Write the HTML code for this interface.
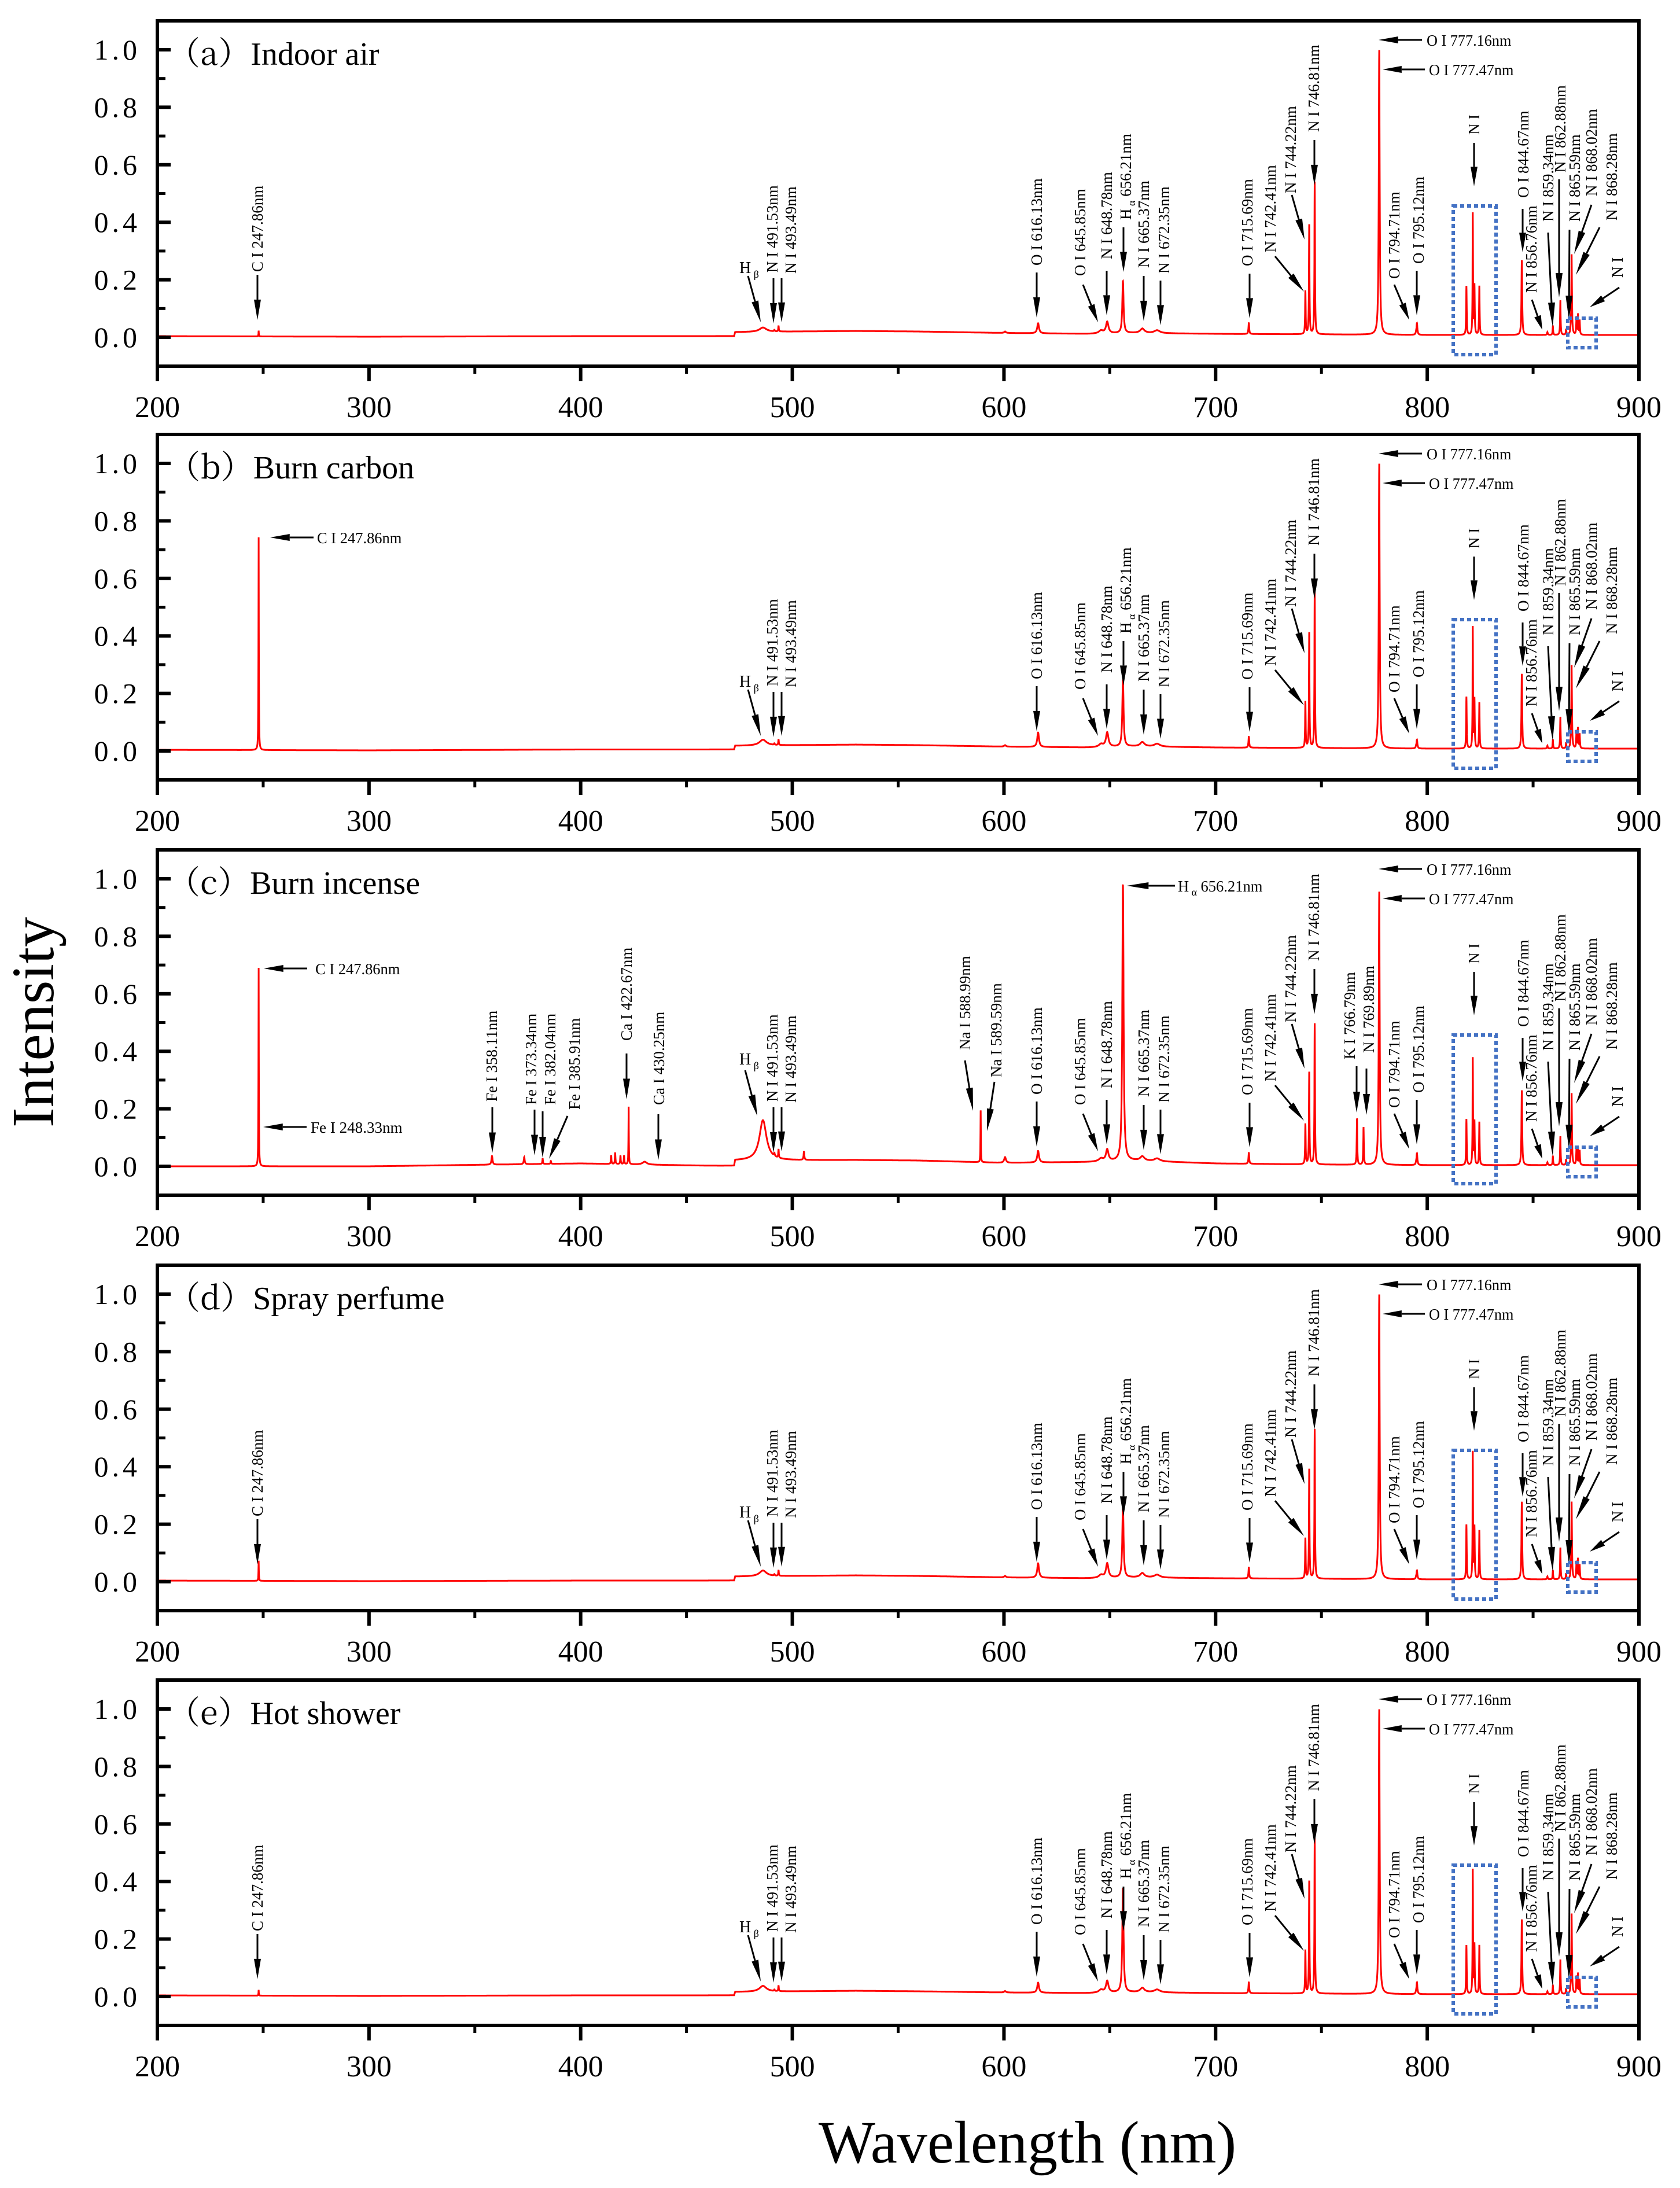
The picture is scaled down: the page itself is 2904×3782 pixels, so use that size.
<!DOCTYPE html>
<html><head><meta charset="utf-8"><title>LIBS spectra</title>
<style>
html,body{margin:0;padding:0;background:#fff;}
svg{display:block;}
text{font-family:"Liberation Serif","Noto Serif CJK SC",serif;fill:#000;}
</style></head>
<body>
<svg id="fig" xmlns="http://www.w3.org/2000/svg" width="2904" height="3782" viewBox="0 0 2904 3782">
<rect width="2904" height="3782" fill="#fff"/>
<text transform="translate(92,1767) rotate(-90)" text-anchor="middle" font-size="104">Intensity</text>
<text x="1776" y="3738" text-anchor="middle" font-size="104">Wavelength (nm)</text>
<g id="panels"></g>
</svg>
<script>
// ---------- data ----------
const panelNames = ["Indoor air","Burn carbon","Burn incense","Spray perfume","Hot shower"];
const panelLetters = ["a","b","c","d","e"];
const xTicks = [200,300,400,500,600,700,800,900];
const yTicks = [0,0.2,0.4,0.6,0.8,1.0];
const yTickLabels = ["0.0","0.2","0.4","0.6","0.8","1.0"];
// emission line centers (nm)
const lineWl = [247.86,358.11,373.34,382.04,385.91,414.4,416.3,418.8,420.5,422.67,430.25,486.13,491.53,493.49,505.5,588.99,600.5,616.13,645.85,648.78,656.21,665.37,672.35,715.69,742.41,744.22,746.81,766.79,769.89,777.3,794.71,795.12,818.5,821.5,822.3,824.6,844.67,856.76,859.34,862.88,865.59,868.2,870.5,871.2,872.0];
const lineWidth = [0.1,0.3,0.25,0.15,0.15,0.15,0.15,0.15,0.15,0.1,1.2,2.0,0.2,0.15,0.2,0.1,0.5,0.5,1.2,0.7,0.35,1.2,1.6,0.2,0.15,0.15,0.15,0.15,0.15,0.25,0.2,0.25,0.15,0.12,0.15,0.15,0.2,0.2,0.15,0.15,0.15,0.18,0.15,0.15,0.15];
// per-panel line heights (normalized intensity)
const heightsA = [0.02,0,0,0,0,0,0,0,0,0,0,0.015,0.005,0.02,0,0,0.005,0.035,0.01,0.04,0.18,0.015,0.01,0.04,0.15,0.38,0.53,0,0,0.99,0.005,0.04,0.17,0.42,0.17,0.17,0.26,0.01,0.03,0.12,0.02,0.28,0.06,0.07,0.05];
const heightsB = [0.74,0,0,0,0,0,0,0,0,0,0,0.02,0.005,0.02,0,0,0.005,0.05,0.01,0.05,0.23,0.015,0.01,0.04,0.16,0.40,0.55,0,0,0.99,0.005,0.03,0.18,0.42,0.17,0.16,0.26,0.01,0.03,0.11,0.02,0.29,0.06,0.07,0.05];
const heightsC = [0.69,0.03,0.025,0.02,0.01,0.03,0.04,0.03,0.03,0.20,0.01,0.14,0.01,0.03,0.03,0.18,0.02,0.04,0.01,0.04,0.96,0.015,0.01,0.04,0.14,0.32,0.49,0.16,0.13,0.95,0.005,0.04,0.16,0.37,0.15,0.15,0.26,0.01,0.03,0.10,0.02,0.25,0.06,0.06,0.05];
const heightsD = [0.07,0,0,0,0,0,0,0,0,0,0,0.02,0.005,0.02,0,0,0.005,0.05,0.01,0.05,0.25,0.015,0.01,0.04,0.14,0.38,0.52,0,0,0.99,0.005,0.03,0.19,0.44,0.18,0.17,0.27,0.01,0.03,0.11,0.02,0.27,0.06,0.07,0.05];
const heightsE = [0.02,0,0,0,0,0,0,0,0,0,0,0.02,0.005,0.02,0,0,0.005,0.035,0.01,0.04,0.36,0.015,0.01,0.04,0.15,0.39,0.54,0,0,0.99,0.005,0.04,0.17,0.43,0.17,0.17,0.26,0.01,0.03,0.12,0.02,0.28,0.06,0.07,0.05];
const panelHeights = [heightsA,heightsB,heightsC,heightsD,heightsE];
// continuum baseline: wavelength knots and values
const baseWl = [200,300,400,472.5,473,530,560,600,640,660,700,750,800,900];
const baseA = [0.004,0.002,0.004,0.004,0.018,0.022,0.02,0.015,0.012,0.015,0.012,0.01,0.008,0.008];
const baseB = [0.004,0.002,0.005,0.005,0.018,0.022,0.02,0.015,0.012,0.016,0.012,0.01,0.008,0.008];
const baseC = [0.0,0.0,0.01,0.0,0.02,0.022,0.02,0.012,0.015,0.02,0.01,0.006,0.004,0.004];
const baseD = [0.004,0.002,0.004,0.004,0.018,0.022,0.02,0.015,0.012,0.015,0.012,0.01,0.008,0.008];
const baseE = [0.004,0.002,0.004,0.004,0.016,0.02,0.018,0.014,0.012,0.015,0.012,0.01,0.008,0.008];
const panelBase = [baseA,baseB,baseC,baseD,baseE];

// ---------- layout ----------
const X0=272, X1=2833, PH=597;
const panelTops=[36,751,1469,2187,2904];
const xs = wl => X0+(wl-200)/700*(X1-X0);
const ys = (T,v) => T+547-497*v;
const NS="http://www.w3.org/2000/svg";
const vAnn = [
 ["C","C I 247.86nm",445,434,445,439,445,517],
 ["N491","N I 491.53nm",1335,435,1337,445,1337,523],
 ["N493","N I 493.49nm",1367,437,1351,445,1351,521],
 ["O616","O I 616.13nm",1792,423,1792,435,1792,513],
 ["O645","O I 645.85nm",1867,441,1872,456,1898,521],
 ["N648","N I 648.78nm",1913,412,1913,432,1913,509],
 ["Ha","H_α 656.21nm",1946,344,1942,357,1942,434],
 ["N665","N I 665.37nm",1977,427,1977,441,1977,519],
 ["N672","N I 672.35nm",2012,437,2006,449,2006,526],
 ["O715","O I 715.69nm",2156,424,2160,437,2160,514],
 ["N742","N I 742.41nm",2196,400,2204,407,2254,468],
 ["N744","N I 744.22nm",2231,298,2233,301,2255,378],
 ["N746","N I 746.81nm",2271,192,2272,206,2272,284],
 ["O794","O I 794.71nm",2410,446,2410,456,2436,517],
 ["O795","O I 795.12nm",2452,420,2449,432,2449,509],
 ["NI1","N I",2548,197,2548,211,2548,286],
 ["O844","O I 844.67nm",2633,306,2632,325,2632,400],
 ["N856","N I 856.76nm",2647,470,2648,482,2666,534],
 ["N859","N I 859.34nm",2676,347,2676,366,2684,529],
 ["N862","N I 862.88nm",2697,262,2695,274,2695,478],
 ["N865","N I 865.59nm",2722,347,2713,361,2712,517],
 ["N868a","N I 868.02nm",2751,303,2751,318,2721,403],
 ["N868b","N I 868.28nm",2786,345,2765,357,2724,439],
 ["NI2","N I",2796,444,2799,461,2748,495]
];
const vAnnC = [
 ["Fe358","Fe I 358.11nm",850,435,851,445,851,524],
 ["Fe373","Fe I 373.34nm",918,441,924,449,924,528],
 ["Fe382","Fe I 382.04nm",951,441,938,452,938,532],
 ["Fe385","Fe I 385.91nm",993,449,981,460,949,534],
 ["Ca422","Ca I 422.67nm",1083,330,1083,352,1083,431],
 ["Ca430","Ca I 430.25nm",1139,441,1138,457,1138,536],
 ["Na588","Na I 588.99nm",1668,346,1668,364,1682,451],
 ["Na589","Na I 589.59nm",1722,393,1719,401,1706,486],
 ["K766","K I 766.79nm",2333,362,2345,374,2345,454],
 ["N769","N I 769.89nm",2366,351,2362,378,2362,458]
];
const hAnn = [
 ["O777a","O I 777.16nm",2466,33,2458,2383],
 ["O777b","O I 777.47nm",2470,84,2463,2390]
];

function mk(tag,attrs,parent){const e=document.createElementNS(NS,tag);for(const k in attrs)e.setAttribute(k,attrs[k]);parent.appendChild(e);return e;}
function arrow(g,x1,y1,x2,y2){
  const dx=x2-x1,dy=y2-y1,L=Math.hypot(dx,dy),ux=dx/L,uy=dy/L,px=-uy,py=ux;
  const hl=Math.min(42,L*0.45),hw=6;
  const bx=x2-ux*hl,by=y2-uy*hl;
  const ln=mk("line",{x1:x1,y1:y1,x2:bx,y2:by,stroke:"#000","stroke-width":3},g);
  
  
  const hd=mk("polygon",{points:`${x2},${y2} ${bx+px*hw},${by+py*hw} ${bx-px*hw},${by-py*hw}`,fill:"#000"},g);
  
  
}
function labelText(el,txt){
  const m=txt.match(/^H_(.)(.*)$/);
  if(m){
    const a=mk("tspan",{},el);a.textContent="H";
    const b=mk("tspan",{"font-size":"18","dy":"7"},el);b.textContent=" "+m[1];
    const c=mk("tspan",{"dy":"-7"},el);c.textContent=m[2];
  } else el.textContent=txt;
}
function interp(xa,ya,x){
  if(x<=xa[0])return ya[0];
  for(let i=1;i<xa.length;i++){if(x<=xa[i]){const t=(x-xa[i-1])/(xa[i]-xa[i-1]);return ya[i-1]+t*(ya[i]-ya[i-1]);}}
  return ya[ya.length-1];
}

const root=document.getElementById("panels");
panelTops.forEach((T,p)=>{
  const g=mk("g",{},root);
  
  
  const cp=mk("clipPath",{id:"clip"+p},g);
  mk("rect",{x:X0,y:T,width:X1-X0,height:PH},cp);
  const H=panelHeights[p], B=panelBase[p];
  let grid=[];
  for(let i=0;i<=14000;i++)grid.push(200+i*0.05);
  lineWl.forEach(w=>grid.push(w));
  grid.sort((a,b)=>a-b);
  let d="";
  grid.forEach((w,i)=>{
    let v=interp(baseWl,B,w);
    for(let k=0;k<lineWl.length;k++){if(H[k]>0){const z=(w-lineWl[k])/lineWidth[k];v+=H[k]/(1+z*z);}}
    d+=(i?"L":"M")+xs(w).toFixed(1)+","+ys(T,v).toFixed(1);
  });
  const sp=mk("path",{d:d,fill:"none",stroke:"#ff0000","stroke-width":3,"clip-path":`url(#clip${p})`},g);
  
  
  const fr=mk("rect",{x:X0,y:T,width:X1-X0,height:PH,fill:"none",stroke:"#000","stroke-width":6},g);
  
  
  yTicks.forEach((v,i)=>{
    const y=ys(T,v);
    const t=mk("line",{x1:X0,y1:y,x2:X0+23,y2:y,stroke:"#000","stroke-width":6},g);
    
    
    const m=mk("line",{x1:X0,y1:ys(T,v+0.1),x2:X0+14,y2:ys(T,v+0.1),stroke:"#000","stroke-width":5},g);
    
    
    const lb=mk("text",{x:243,y:y+17,"text-anchor":"end","font-size":50,"letter-spacing":"6"},g);
    
    
    lb.textContent=yTickLabels[i];
  });
  const yb=T+PH;
  xTicks.forEach((w,i)=>{
    const x=xs(w);
    const t=mk("line",{x1:x,y1:yb,x2:x,y2:yb+26,stroke:"#000","stroke-width":6},g);
    
    
    if(i<xTicks.length-1){
      const m=mk("line",{x1:xs(w+50),y1:yb,x2:xs(w+50),y2:yb+13,stroke:"#000","stroke-width":5},g);
      
      
    }
    const lb=mk("text",{x:x,y:yb+88,"text-anchor":"middle","font-size":52},g);
    
    
    lb.textContent=String(w);
  });
  const tt=mk("text",{x:290,y:T+76,"font-size":56},g);
  
  
  const t1=mk("tspan",{"font-family":"Noto Serif CJK SC, serif"},tt);t1.textContent="（"+panelLetters[p]+"）";
  const t2=mk("tspan",{},tt);t2.textContent=panelNames[p];
  let list=vAnn.filter(a=>{
    if(p===1&&a[0]==="C")return false;
    if(p===2&&(a[0]==="C"||a[0]==="Ha"))return false;
    return true;
  });
  if(p===2)list=list.concat(vAnnC);
  list.forEach(a=>{
    const ag=mk("g",{},g);
    
    
    const tx=mk("text",{transform:`translate(${a[2]+9},${T+a[3]}) rotate(-90)`,"font-size":27},ag);
    labelText(tx,a[1]);
    arrow(ag,a[4],T+a[5],a[6],T+a[7]);
  });
  let hl=hAnn.slice();
  if(p===1)hl.push(["C","C I 247.86nm",548,178,542,467]);
  if(p===2){
    hl.push(["C","C I 247.86nm",545,205,531,456]);
    hl.push(["Fe248","Fe I 248.33nm",537,479,530,455]);
    hl.push(["Ha","H_α 656.21nm",2036,62,2031,1948]);
  }
  hl.forEach(a=>{
    const ag=mk("g",{},g);
    
    
    const tx=mk("text",{x:a[2],y:T+a[3]+10,"font-size":27,textLength:a[1].length*12.2,lengthAdjust:"spacingAndGlyphs"},ag);
    labelText(tx,a[1]);
    arrow(ag,a[4],T+a[3],a[5],T+a[3]);
  });
  const hb=mk("g",{},g);
  
  
  const off = p===2 ? -65 : 0;
  const hbt=mk("text",{x:1278,y:T+436+off,"font-size":28},hb);
  const s1=mk("tspan",{},hbt);s1.textContent="H";
  const s2=mk("tspan",{"font-size":18,dy:8},hbt);s2.textContent=" β";
  if(p===2)arrow(hb,1288,T+381,1309,T+460);else arrow(hb,1293,T+441,1315,T+521);
  const b1=mk("rect",{x:2512,y:T+320,width:74,height:257,fill:"none",stroke:"#4472c4","stroke-width":6,"stroke-dasharray":"7 5"},g);
  
  
  const b2=mk("rect",{x:2710,y:T+514,width:49,height:51,fill:"none",stroke:"#4472c4","stroke-width":6,"stroke-dasharray":"7 5"},g);
  
  
});
</script>
</body></html>
